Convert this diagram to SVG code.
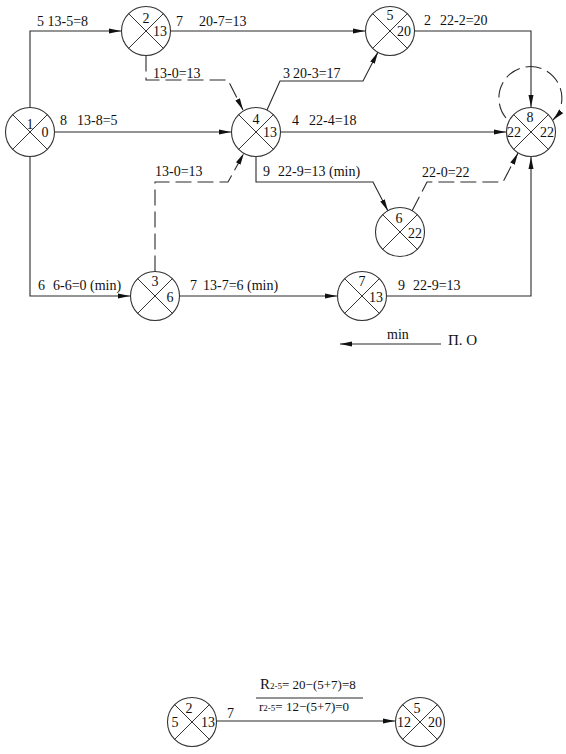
<svg xmlns="http://www.w3.org/2000/svg" width="566" height="754" viewBox="0 0 566 754">
<style>
.bg{fill:#ffffff}
.n circle{fill:#ffffff;stroke:#333;stroke-width:1.1}
.n line{stroke:#333;stroke-width:1}
.n text{font-family:'Liberation Serif','DejaVu Serif',serif;font-size:14px;fill:#111;text-anchor:middle}
.c path{fill:none;stroke:#2a2a2a;stroke-width:1.1}
.c .d{stroke-dasharray:16 6}
.lbl{font-family:'Liberation Serif','DejaVu Serif',serif;font-size:14px;fill:#111}
</style>
<defs>
<marker id="ar" markerUnits="userSpaceOnUse" markerWidth="13" markerHeight="7" refX="12" refY="3.5" orient="auto">
<path d="M0,1 L12,3.5 L0,6 Z" fill="#111"/>
</marker>
</defs>
<rect class="bg" x="0" y="0" width="566" height="754"/>

<g id="connectors" class="c">
<path d="M30,107 V31 H121" marker-end="url(#ar)"/>
<path d="M170.5,31 H365" marker-end="url(#ar)"/>
<path d="M414.5,31 H531 V107" marker-end="url(#ar)"/>
<path class="d" d="M146,55.5 V80 H228 L243,110" marker-end="url(#ar)"/>
<path d="M54.5,132 H231" marker-end="url(#ar)"/>
<path d="M267,110 L280,81 H363 L378,52" marker-end="url(#ar)"/>
<path d="M280.5,132 H506" marker-end="url(#ar)"/>
<path class="d" d="M155,271.5 V182 H228 L244,153" marker-end="url(#ar)"/>
<path d="M256,156.5 V182 H373 L388,211" marker-end="url(#ar)"/>
<path class="d" d="M412,211 L427,182 H503 L518,153" marker-end="url(#ar)"/>
<path d="M30,155.5 V296 H130" marker-end="url(#ar)"/>
<path d="M179.5,296 H337" marker-end="url(#ar)"/>
<path d="M386.5,296 H531 V157" marker-end="url(#ar)"/>
<path class="d" d="M506,118 A31.5,31.5 0 1 1 553,120" marker-end="url(#ar)"/>
<path d="M441,344 H340" marker-end="url(#ar)"/>
<path d="M216.5,721 H395" marker-end="url(#ar)"/>
<path d="M256,698 H363"/>
</g>

<g id="node1" class="n">
<circle cx="30" cy="132" r="24.5"/>
<line x1="12.7" y1="114.7" x2="47.3" y2="149.3"/><line x1="47.3" y1="114.7" x2="12.7" y2="149.3"/>
<text x="30" y="129">1</text><text x="45" y="137">0</text>
</g>
<g id="node2" class="n">
<circle cx="146" cy="31" r="24.5"/>
<line x1="128.7" y1="13.7" x2="163.3" y2="48.3"/><line x1="163.3" y1="13.7" x2="128.7" y2="48.3"/>
<text x="146" y="23">2</text><text x="160" y="36">13</text>
</g>
<g id="node3" class="n">
<circle cx="155" cy="296" r="24.5"/>
<line x1="137.7" y1="278.7" x2="172.3" y2="313.3"/><line x1="172.3" y1="278.7" x2="137.7" y2="313.3"/>
<text x="155" y="286">3</text><text x="170" y="302">6</text>
</g>
<g id="node4" class="n">
<circle cx="256" cy="132" r="24.5"/>
<line x1="238.7" y1="114.7" x2="273.3" y2="149.3"/><line x1="273.3" y1="114.7" x2="238.7" y2="149.3"/>
<text x="256" y="124">4</text><text x="270" y="137">13</text>
</g>
<g id="node5" class="n">
<circle cx="390" cy="31" r="24.5"/>
<line x1="372.7" y1="13.7" x2="407.3" y2="48.3"/><line x1="407.3" y1="13.7" x2="372.7" y2="48.3"/>
<text x="390" y="20">5</text><text x="404" y="36">20</text>
</g>
<g id="node6" class="n">
<circle cx="400" cy="232" r="24.5"/>
<line x1="382.7" y1="214.7" x2="417.3" y2="249.3"/><line x1="417.3" y1="214.7" x2="382.7" y2="249.3"/>
<text x="399" y="223">6</text><text x="415" y="238">22</text>
</g>
<g id="node7" class="n">
<circle cx="362" cy="296" r="24.5"/>
<line x1="344.7" y1="278.7" x2="379.3" y2="313.3"/><line x1="379.3" y1="278.7" x2="344.7" y2="313.3"/>
<text x="362" y="286">7</text><text x="376" y="302">13</text>
</g>
<g id="node8" class="n">
<circle cx="531" cy="132" r="24.5"/>
<line x1="513.7" y1="114.7" x2="548.3" y2="149.3"/><line x1="548.3" y1="114.7" x2="513.7" y2="149.3"/>
<text x="530" y="122">8</text><text x="514" y="137">22</text><text x="547" y="137">22</text>
</g>
<g id="nodeB2" class="n">
<circle cx="192" cy="722" r="24.5"/>
<line x1="174.7" y1="704.7" x2="209.3" y2="739.3"/><line x1="209.3" y1="704.7" x2="174.7" y2="739.3"/>
<text x="189" y="713">2</text><text x="175" y="727">5</text><text x="208" y="727">13</text>
</g>
<g id="nodeB5" class="n">
<circle cx="420" cy="722" r="24.5"/>
<line x1="402.7" y1="704.7" x2="437.3" y2="739.3"/><line x1="437.3" y1="704.7" x2="402.7" y2="739.3"/>
<text x="417" y="713">5</text><text x="404" y="727">12</text><text x="435" y="727">20</text>
</g>

<g id="labels">
<text class="lbl" x="37" y="26">5 13-5=8</text>
<text class="lbl" x="176" y="26">7</text><text class="lbl" x="199" y="26">20-7=13</text>
<text class="lbl" x="424" y="25">2</text><text class="lbl" x="440" y="25">22-2=20</text>
<text class="lbl" x="153" y="78">13-0=13</text>
<text class="lbl" x="283" y="78">3</text><text class="lbl" x="293" y="78">20-3=17</text>
<text class="lbl" x="60" y="125">8</text><text class="lbl" x="77" y="125">13-8=5</text>
<text class="lbl" x="292" y="125">4</text><text class="lbl" x="309" y="125">22-4=18</text>
<text class="lbl" x="155" y="176">13-0=13</text>
<text class="lbl" x="263" y="176">9</text><text class="lbl" x="278" y="176">22-9=13 (min)</text>
<text class="lbl" x="422" y="177">22-0=22</text>
<text class="lbl" x="38" y="290">6</text><text class="lbl" x="53" y="290">6-6=0 (min)</text>
<text class="lbl" x="190" y="290">7</text><text class="lbl" x="203" y="290">13-7=6 (min)</text>
<text class="lbl" x="398" y="290">9</text><text class="lbl" x="413" y="290">22-9=13</text>
<text class="lbl" x="387" y="339">min</text>
<text class="lbl" x="448" y="345" style="font-size:15px">П. О</text>
<text class="lbl" x="227" y="718">7</text>
<text class="lbl" x="260" y="689" style="font-size:13px"><tspan style="font-size:15px">R</tspan><tspan style="font-size:9px">2-5</tspan>= 20−(5+7)=8</text>
<text class="lbl" x="259" y="711" style="font-size:13px">r<tspan style="font-size:9px">2-5</tspan>= 12−(5+7)=0</text>
</g>
</svg>
